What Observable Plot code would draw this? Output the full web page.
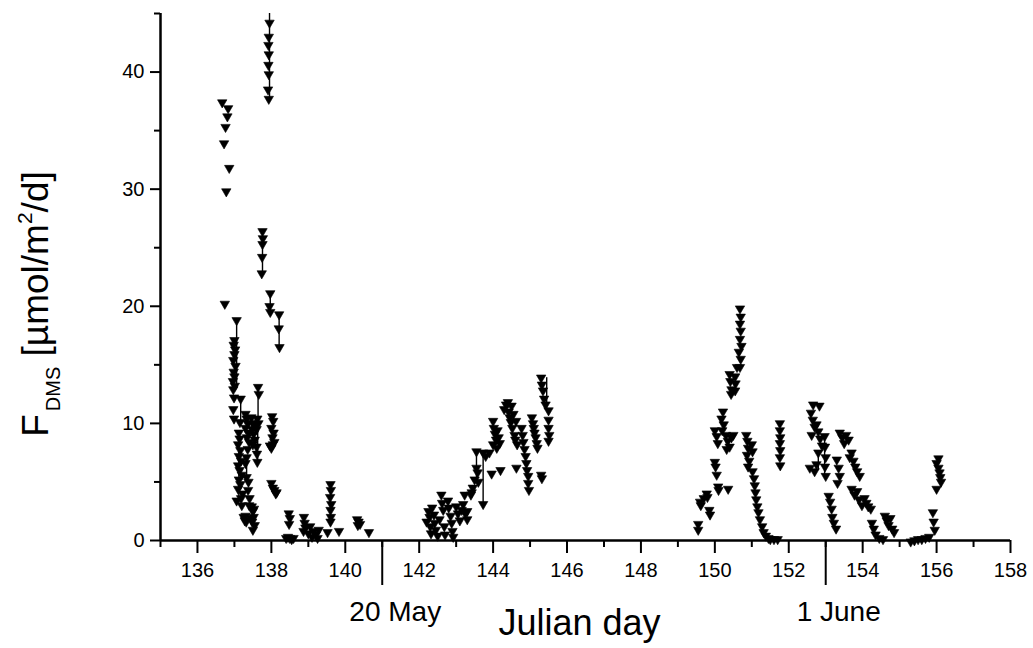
<!DOCTYPE html>
<html>
<head>
<meta charset="utf-8">
<script src="https://cdn.jsdelivr.net/npm/d3@7"></script>
<script src="https://cdn.jsdelivr.net/npm/@observablehq/plot@0.6"></script>
<style>
  html, body { margin: 0; padding: 0; background: #fff; }
  #chart svg { display: block; }
</style>
</head>
<body>
<div id="chart"></div>
<script>
// Julian day of each measurement
const day = [
  136.67,136.83,136.81,136.76,136.72,136.86,136.78,136.74,
  137.06,137.00,136.98,137.02,137.00,136.97,137.03,136.98,137.00,136.96,137.01,136.97,136.99,136.97,136.99,
  137.17,137.15,137.12,137.14,137.10,137.16,137.12,137.18,137.10,137.14,137.20,137.12,137.16,137.10,137.22,137.18,137.06,137.20,
  137.30,137.33,137.36,137.30,137.38,137.34,137.40,137.36,137.33,137.30,137.33,137.38,137.37,137.41,137.40,
  137.46,137.50,137.55,137.48,137.52,137.55,137.50,
  137.64,137.66,137.62,137.65,137.60,137.60,137.61,137.62,
  137.25,137.28,137.32,137.30,137.47,137.50,137.52,137.48,137.55,137.50,137.45,137.53,
  137.76,137.77,137.76,137.75,137.74,
  137.95,137.93,137.92,137.93,137.92,137.93,137.91,137.93,
  137.97,137.95,137.97,
  138.21,138.20,138.22,
  138.02,138.05,138.00,138.06,138.03,138.08,137.96,138.00,138.04,
  138.00,138.04,138.08,138.14,138.12,
  138.47,138.50,138.48,138.40,138.45,138.50,138.55,138.60,
  138.88,138.90,138.92,138.87,139.00,139.05,139.10,139.15,139.20,139.25,139.28,
  139.52,139.60,139.61,139.59,139.62,139.60,139.61,139.60,139.83,
  140.32,140.36,140.40,140.34,140.64,
  142.20,142.25,142.28,142.30,142.32,142.35,142.40,142.42,142.45,142.50,142.55,142.60,142.62,142.65,142.68,142.70,
  142.78,142.80,142.85,142.88,142.90,142.92,143.00,143.05,143.10,143.15,143.19,143.23,143.25,143.30,143.30,
  143.40,143.45,143.50,143.42,143.55,143.55,143.58,143.60,143.73,143.73,143.80,143.90,143.96,
  144.00,144.02,144.05,144.08,144.00,144.10,144.15,144.12,144.18,144.20,
  144.30,144.35,144.40,144.42,144.45,144.50,144.48,144.52,144.55,144.58,144.60,144.62,144.65,144.63,
  144.77,144.80,144.82,144.85,144.88,144.90,144.92,144.95,144.95,144.97,
  145.05,145.08,145.10,145.12,145.15,145.18,145.20,145.30,145.32,145.35,145.38,145.42,145.50,145.50,145.50,145.52,145.50,145.30,145.32,
  149.55,149.55,149.60,149.62,149.70,149.78,149.80,149.87,149.85,
  150.00,150.02,150.05,150.09,150.10,150.36,
  150.00,150.05,150.08,150.18,150.22,150.24,150.20,
  150.30,150.35,150.40,150.45,150.50,150.32,
  150.40,150.42,150.45,150.44,
  150.68,150.70,150.68,150.70,150.68,150.72,150.65,150.70,150.60,150.68,150.55,150.56,150.55,
  150.85,150.88,150.90,150.87,150.93,150.90,151.00,151.02,
  151.02,151.06,151.08,151.10,151.12,151.15,151.18,151.22,151.28,151.32,151.38,151.45,151.50,151.60,151.70,
  151.76,151.76,151.77,151.76,151.77,151.76,151.77,
  152.66,152.83,152.60,152.65,152.70,152.62,152.75,152.80,152.85,152.90,152.80,152.57,152.70,152.75,152.97,152.98,153.00,152.98,153.00,
  153.08,153.12,153.16,153.18,153.22,153.28,
  153.30,153.35,153.38,153.32,153.38,153.45,153.50,153.55,153.62,153.70,153.65,153.75,153.80,153.85,153.92,
  153.70,153.78,153.85,153.90,153.98,154.05,154.10,154.15,154.22,
  154.25,154.30,154.35,154.45,154.55,154.60,154.65,154.70,154.75,154.80,154.85,
  155.30,155.40,155.50,155.60,155.70,155.80,
  155.90,155.92,155.95,156.00,156.00,156.05,156.08,156.10,156.12,156.05
];
// DMS flux, µmol/m²/d
const flux = [
  37.4,36.9,36.2,35.3,33.9,31.8,29.8,20.2,
  18.8,17.1,16.7,16.3,15.9,15.4,14.9,14.4,14.0,13.6,13.2,12.9,12.2,11.2,10.4,
  12.1,10.1,9.2,8.7,8.2,7.7,7.2,6.8,6.4,6.0,5.6,5.2,4.8,4.4,4.0,3.6,3.4,3.0,
  10.8,10.4,10.0,9.6,9.2,8.8,8.4,7.8,7.1,6.6,5.4,5.0,4.3,3.6,3.0,
  10.5,10.0,9.8,9.5,9.1,8.6,8.2,
  13.1,12.5,10.4,10.0,9.5,8.0,7.4,6.7,
  2.0,1.7,1.6,2.1,2.9,2.5,2.0,1.6,1.3,0.9,1.9,2.7,
  26.4,25.8,25.3,24.2,22.8,
  44.2,43.0,42.3,41.5,40.6,39.8,38.5,37.7,
  21.1,20.0,19.5,
  19.3,18.1,16.5,
  10.6,10.2,9.6,9.2,8.8,8.4,8.1,7.9,8.2,
  4.9,4.5,4.3,4.1,4.0,
  2.3,1.9,1.4,0.2,0.3,0.2,0.1,0.2,
  2.0,1.5,1.1,0.8,0.6,1.2,0.3,0.8,0.5,0.2,0.9,
  0.7,4.8,4.3,3.7,3.1,2.6,2.0,1.6,0.8,
  1.8,1.6,1.4,1.3,0.7,
  1.6,2.5,2.0,1.2,0.6,2.8,2.2,1.5,0.9,0.4,1.8,3.9,3.2,2.6,1.2,0.5,
  3.4,2.8,2.1,1.5,0.8,0.3,2.9,2.3,1.7,2.6,3.1,3.9,2.3,1.8,2.5,
  3.9,4.5,5.2,4.1,6.2,7.6,5.8,5.0,7.5,3.1,7.2,7.5,5.7,
  10.2,9.6,9.1,8.6,8.2,7.9,8.8,9.4,8.3,6.0,
  11.2,11.6,11.8,11.0,10.5,11.5,10.1,9.6,10.8,9.0,8.6,10.2,8.2,6.2,
  9.6,9.0,8.4,7.8,7.2,6.6,6.0,5.5,4.9,4.3,
  10.5,10.0,9.6,9.2,8.8,8.3,7.9,13.9,13.3,12.8,12.1,11.6,11.1,10.3,9.6,9.0,8.5,5.6,5.3,
  1.4,0.9,3.3,3.0,3.6,4.0,3.7,2.2,2.6,
  6.7,6.3,5.6,4.6,4.3,4.4,
  9.4,8.9,8.3,10.4,11.0,9.9,9.4,
  9.0,8.5,8.0,8.8,9.0,7.8,
  14.2,13.6,12.9,12.5,
  19.8,19.1,18.5,17.9,17.2,16.6,16.1,15.5,14.8,14.8,14.0,13.4,12.8,
  9.0,8.5,7.9,7.3,6.8,6.3,8.2,7.6,
  5.9,5.3,4.7,4.1,3.5,2.9,2.4,1.8,1.2,0.7,0.4,0.2,0.1,0.1,0.1,
  10.0,9.4,8.8,8.3,7.7,7.1,6.4,
  11.6,11.5,10.9,10.3,9.7,9.0,9.9,9.3,8.7,8.1,7.5,6.2,5.9,6.5,8.9,8.0,7.1,6.3,5.5,
  3.8,3.3,2.7,2.0,1.5,1.0,
  6.9,6.2,5.5,4.9,9.2,8.8,8.3,9.0,8.6,7.5,7.1,6.8,6.3,5.9,5.5,
  4.4,3.9,4.2,3.5,3.0,3.6,3.2,2.9,2.7,
  1.5,1.0,0.5,0.2,0.1,2.1,1.7,1.3,1.9,1.0,0.7,
  -0.1,0.0,0.1,0.1,0.2,0.3,
  2.4,1.6,0.9,4.4,6.6,6.2,5.8,5.4,5.0,7.0
];
// vertical range bars
const errDay  = [137.95,137.76,137.97,138.21,137.06,137.17,137.64,137.63,137.33,138.50,139.60,143.55,143.73,145.45,152.80,152.97,137.12];
const errLow  = [37.7,22.8,19.5,16.5,13.0,10.1,10.0,6.7,5.4,1.4,1.6,5.1,3.1,11.1,6.0,5.5,3.2];
const errHigh = [45.0,26.4,21.1,19.3,18.8,12.1,13.1,10.2,7.1,2.3,4.8,7.6,7.5,13.9,7.5,8.9,9.2];

const majorX = [136,138,140,142,144,146,148,150,152,154,156,158];
const minorX = [135,137,139,141,143,145,147,149,151,153,155,157];
const dateX = [141,153];
const dateLabels = ["20 May","1 June"];
const majorY = [0,10,20,30,40];
const minorY = [5,15,25,35,45];

const points = day.map((d, i) => ({day: d, flux: flux[i]}));
const bars = errDay.map((d, i) => ({day: d, lo: errLow[i], hi: errHigh[i]}));
const dates = dateX.map((d, i) => ({day: d, label: dateLabels[i]}));

const triangleDown = {
  draw(context, size) {
    const s = Math.sqrt(4 * size / Math.sqrt(3));
    const h = s * Math.sqrt(3) / 2;
    context.moveTo(-s / 2, -h / 3);
    context.lineTo(s / 2, -h / 3);
    context.lineTo(0, 2 * h / 3);
    context.closePath();
  }
};

const font = "'Liberation Sans', Arial, Helvetica, sans-serif";

const chart = Plot.plot({
  width: 1033,
  height: 648,
  marginLeft: 160,
  marginRight: 23,
  marginTop: 13,
  marginBottom: 108,
  style: {fontFamily: font, background: "white", color: "black"},
  x: {domain: [135, 158]},
  y: {domain: [0, 45]},
  marks: [
    Plot.axisX(majorX, {tickSize: 13, tickPadding: 9, fontSize: 20, strokeWidth: 2, tickFormat: d => String(d), label: null}),
    Plot.axisX(minorX, {tickSize: 7, strokeWidth: 2, text: null, label: null}),
    Plot.axisX(dateX, {tickSize: 45, strokeWidth: 2, text: null, label: null}),
    Plot.axisY(majorY, {tickSize: 10, tickPadding: 6, fontSize: 20, strokeWidth: 2, tickFormat: d => String(d), label: null}),
    Plot.axisY(minorY, {tickSize: 6, strokeWidth: 2, text: null, label: null}),
    Plot.ruleY([0], {stroke: "black", strokeWidth: 2.5}),
    Plot.ruleX([135], {stroke: "black", strokeWidth: 2.5}),
    Plot.ruleX(bars, {x: "day", y1: "lo", y2: "hi", stroke: "black", strokeWidth: 1.4}),
    Plot.dot(points, {x: "day", y: "flux", symbol: triangleDown, r: 3.5, fill: "black", stroke: "black", strokeWidth: 0.6}),
    Plot.text(dates, {x: "day", text: "label", frameAnchor: "bottom", lineAnchor: "bottom", dy: 80, dx: 13, fontSize: 28, fill: "black"}),
    Plot.text(["Julian day"], {frameAnchor: "bottom", lineAnchor: "bottom", dy: 94, dx: -6, fontSize: 36, fill: "black"})
  ]
});

document.getElementById("chart").appendChild(chart);

// y-axis title with subscript and superscript
const svg = d3.select(chart);
const t = svg.append("text")
  .attr("transform", "translate(48,304) rotate(-90)")
  .attr("text-anchor", "middle")
  .attr("font-family", font)
  .attr("font-size", 37)
  .attr("fill", "black");
t.append("tspan").text("F");
t.append("tspan").attr("font-size", 20).attr("dy", 12).attr("dx", 3).text("DMS");
t.append("tspan").attr("dy", -12).text(" [µmol/m");
t.append("tspan").attr("font-size", 21).attr("dy", -16).text("2");
t.append("tspan").attr("dy", 16).text("/d]");
</script>
</body>
</html>
